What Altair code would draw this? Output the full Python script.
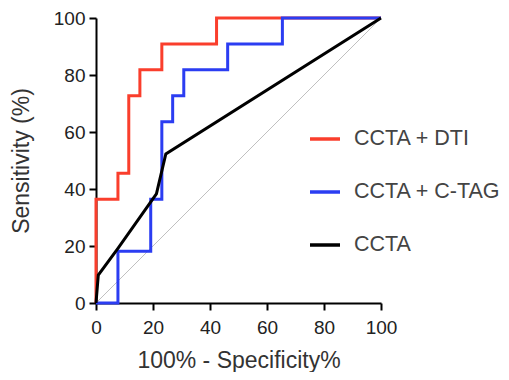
import altair as alt
import pandas as pd

# ROC curve data
dti_x = [0, 0, 7.7, 7.7, 11.5, 11.5, 15.4, 15.4, 23.1, 23.1, 42.3, 42.3, 100]
dti_y = [0, 36.4, 36.4, 45.5, 45.5, 72.7, 72.7, 81.8, 81.8, 90.9, 90.9, 100, 100]

ctag_x = [0, 7.7, 7.7, 19.2, 19.2, 23.1, 23.1, 26.9, 26.9, 30.8, 30.8, 46.2, 46.2, 65.4, 65.4, 100]
ctag_y = [0, 0, 18.2, 18.2, 36.4, 36.4, 63.6, 63.6, 72.7, 72.7, 81.8, 81.8, 90.9, 90.9, 100, 100]

ccta_x = [0, 0.8, 7.7, 21.2, 24.5, 100]
ccta_y = [0, 9.8, 19.2, 38.3, 52.3, 100]

ref_x = [0, 100]
ref_y = [0, 100]

series = ["CCTA + DTI", "CCTA + C-TAG", "CCTA"]
colors = ["#fa3e2c", "#2b3df2", "#000000"]
ticks = [0, 20, 40, 60, 80, 100]


def frame(xs, ys, name):
    return pd.DataFrame({"x": xs, "y": ys, "series": name, "i": list(range(len(xs)))})


color = alt.Color(
    "series:N",
    scale=alt.Scale(domain=series, range=colors),
    sort=series,
    legend=alt.Legend(
        title=None,
        orient="none",
        legendX=212,
        legendY=104,
        symbolType="stroke",
        symbolSize=900,
        symbolStrokeWidth=3.5,
        labelFontSize=21.5,
        labelColor="#444444",
        labelFont="Liberation Sans",
        labelOffset=12,
        labelLimit=300,
        rowPadding=25,
        padding=0,
    ),
)

xenc = alt.X(
    "x:Q",
    scale=alt.Scale(domain=[0, 100]),
    axis=alt.Axis(values=ticks, title="100% - Specificity%", labelPadding=8, titlePadding=12),
)
yenc = alt.Y(
    "y:Q",
    scale=alt.Scale(domain=[0, 100]),
    axis=alt.Axis(values=ticks, title="Sensitivity (%)", labelPadding=4, titlePadding=20),
)

ref = alt.Chart(pd.DataFrame({"x": ref_x, "y": ref_y})).mark_line(
    color="#b0b0b0", strokeWidth=0.8
).encode(x=xenc, y=yenc)


def curve(df):
    return alt.Chart(df).mark_line(strokeWidth=3).encode(
        x=xenc, y=yenc, color=color, order="i:Q"
    )


chart = alt.layer(
    ref,
    curve(frame(dti_x, dti_y, series[0])),
    curve(frame(ctag_x, ctag_y, series[1])),
    curve(frame(ccta_x, ccta_y, series[2])),
).properties(
    width=285,
    height=285,
    autosize=alt.AutoSizeParams(type="none"),
    padding={"left": 88, "top": 10, "right": 120, "bottom": 69},
).configure_view(stroke=None).configure_axis(
    grid=False,
    domainColor="#000000",
    domainWidth=2,
    tickColor="#000000",
    tickWidth=2,
    tickSize=7,
    labelFlush=False,
    labelFontSize=19,
    labelColor="#222222",
    labelFont="Liberation Sans",
    titleFontSize=23,
    titleFontWeight="normal",
    titleColor="#333333",
    titleFont="Liberation Sans",
)

chart.save("out.html", embed_options={"renderer": "svg", "actions": False})
